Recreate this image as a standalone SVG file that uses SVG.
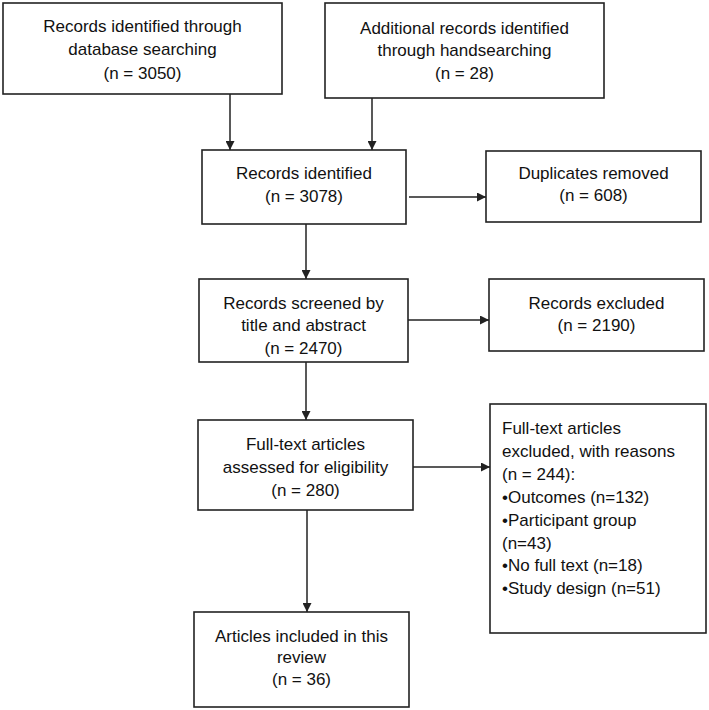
<svg xmlns="http://www.w3.org/2000/svg" width="709" height="710" viewBox="0 0 709 710">
<style>
.box{fill:#fff;stroke:#222;stroke-width:1.6}
.t{font-family:"Liberation Sans",Arial,sans-serif;font-size:17px;fill:#111;text-anchor:middle}
.tl{font-family:"Liberation Sans",Arial,sans-serif;font-size:17px;fill:#111}
.c{stroke:#222;stroke-width:1.5;fill:none;marker-end:url(#ah)}
</style>
<defs>
<marker id="ah" viewBox="0 0 10 10" refX="10" refY="5" markerWidth="9" markerHeight="9" markerUnits="userSpaceOnUse" orient="auto">
<path d="M0,0 L10,5 L0,10 Z" fill="#222"/>
</marker>
</defs>
<rect width="709" height="710" fill="#fff"/>
<g id="connectors">
<line class="c" x1="230" y1="94" x2="230" y2="150"/>
<line class="c" x1="372" y1="98" x2="372" y2="150"/>
<line class="c" x1="409" y1="197" x2="486" y2="197"/>
<line class="c" x1="306" y1="224" x2="306" y2="279"/>
<line class="c" x1="408" y1="320" x2="489" y2="320"/>
<line class="c" x1="306" y1="362" x2="306" y2="420"/>
<line class="c" x1="413" y1="467" x2="490" y2="467"/>
<line class="c" x1="307" y1="510" x2="307" y2="612"/>
</g>
<g id="n1">
<rect class="box" x="3" y="3" width="279" height="91"/>
<text class="t" x="142.5" y="32">Records identified through</text>
<text class="t" x="142.5" y="55">database searching</text>
<text class="t" x="142.5" y="79">(n = 3050)</text>
</g>
<g id="n2">
<rect class="box" x="325" y="3" width="279" height="95"/>
<text class="t" x="464.5" y="34">Additional records identified</text>
<text class="t" x="464.5" y="56">through handsearching</text>
<text class="t" x="464.5" y="79">(n = 28)</text>
</g>
<g id="n3">
<rect class="box" x="202" y="150" width="204" height="74"/>
<text class="t" x="304" y="179">Records identified</text>
<text class="t" x="304" y="202">(n = 3078)</text>
</g>
<g id="n4">
<rect class="box" x="486" y="151" width="215" height="71"/>
<text class="t" x="593.5" y="179">Duplicates removed</text>
<text class="t" x="593.5" y="201">(n = 608)</text>
</g>
<g id="n5">
<rect class="box" x="199" y="279" width="209" height="83"/>
<text class="t" x="303.5" y="309">Records screened by</text>
<text class="t" x="303.5" y="331">title and abstract</text>
<text class="t" x="303.5" y="354">(n = 2470)</text>
</g>
<g id="n6">
<rect class="box" x="489" y="279" width="215" height="72"/>
<text class="t" x="596.5" y="309">Records excluded</text>
<text class="t" x="596.5" y="331">(n = 2190)</text>
</g>
<g id="n7">
<rect class="box" x="198" y="420" width="215" height="90"/>
<text class="t" x="305.5" y="450">Full-text articles</text>
<text class="t" x="305.5" y="473">assessed for eligibility</text>
<text class="t" x="305.5" y="496">(n = 280)</text>
</g>
<g id="n8">
<rect class="box" x="490" y="404" width="216" height="229"/>
<text class="tl" x="502" y="434">Full-text articles</text>
<text class="tl" x="502" y="457">excluded, with reasons</text>
<text class="tl" x="502" y="480">(n = 244):</text>
<text class="tl" x="502" y="503">•Outcomes (n=132)</text>
<text class="tl" x="502" y="526">•Participant group</text>
<text class="tl" x="502" y="549">(n=43)</text>
<text class="tl" x="502" y="571">•No full text (n=18)</text>
<text class="tl" x="502" y="594">•Study design (n=51)</text>
</g>
<g id="n9">
<rect class="box" x="194" y="612" width="215" height="95"/>
<text class="t" x="301.5" y="642">Articles included in this</text>
<text class="t" x="301.5" y="663">review</text>
<text class="t" x="301.5" y="685">(n = 36)</text>
</g>
</svg>
